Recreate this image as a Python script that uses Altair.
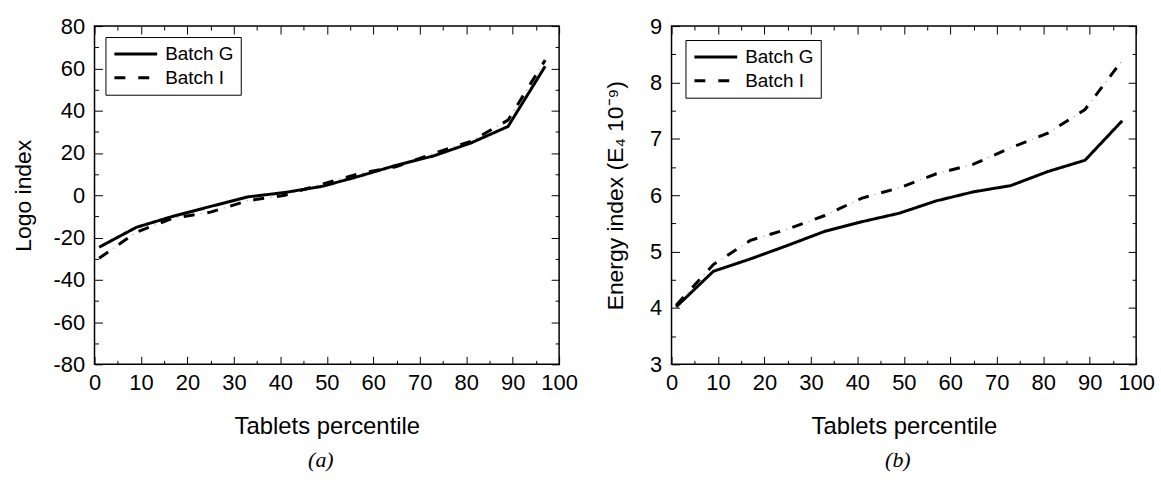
import altair as alt
import pandas as pd

# ---- data ----
pct = [1, 9, 17, 25, 33, 41, 49, 57, 65, 73, 81, 89, 97]
logo_g = [-24.6, -15.2, -9.9, -5.3, -0.8, 1.3, 4.2, 9.0, 14.2, 18.6, 24.7, 32.5, 61.0]
logo_i = [-29.8, -17.5, -10.8, -8.0, -2.6, 0.0, 5.3, 10.2, 13.5, 19.8, 25.5, 35.5, 63.9]
energy_g = [4.02, 4.65, 4.87, 5.11, 5.36, 5.53, 5.68, 5.90, 6.06, 6.17, 6.42, 6.62, 7.32]
energy_i = [4.05, 4.77, 5.20, 5.40, 5.64, 5.95, 6.13, 6.38, 6.55, 6.84, 7.10, 7.52, 8.39]
series = ["Batch G", "Batch I"]

x_major = [0, 10, 20, 30, 40, 50, 60, 70, 80, 90, 100]
x_minor = [5, 15, 25, 35, 45, 55, 65, 75, 85, 95]
logo_major = [-80, -60, -40, -20, 0, 20, 40, 60, 80]
logo_minor = [-70, -50, -30, -10, 10, 30, 50, 70]
energy_major = [3, 4, 5, 6, 7, 8, 9]
energy_minor = [3.5, 4.5, 5.5, 6.5, 7.5, 8.5]

FONT = "Liberation Sans"
W, H = 467, 340
MAJ, MIN = 8, 4
HYPHEN_LABEL = "replace(datum.label, '\u2212', '-')"


def make_df(g, i):
    rows = []
    for name, vals in zip(series, [g, i]):
        for p, v in zip(pct, vals):
            rows.append({"pct": p, "val": v, "batch": name})
    return pd.DataFrame(rows)


def tick_axis(orient, values, size):
    return alt.Axis(orient=orient, values=values, ticks=True, tickSize=size,
                    tickColor="black", tickWidth=1, offset=-size, labels=False,
                    domain=False, grid=False, title=None)


def panel(df, ydom, ymaj, ymin, ytitle, caption, leg_offset, ytitle_pad):
    xs = alt.Scale(domain=[0, 100], nice=False, zero=False)
    ys = alt.Scale(domain=ydom, nice=False, zero=False)
    base = alt.Chart(df)
    # faint dots between the dashes of Batch I
    dots = base.transform_filter(alt.datum.batch == series[1]).mark_line(
        color="#b0b0b0", strokeWidth=1.2, strokeCap="butt").encode(
        x=alt.X("pct:Q", scale=xs, axis=None),
        y=alt.Y("val:Q", scale=ys, axis=None),
        strokeDash=alt.value([11, 6, 1.5, 5.5]),
        order="pct:Q",
    )
    lines = base.mark_line(color="black", strokeWidth=3, strokeCap="butt").encode(
        x=alt.X("pct:Q", scale=xs, axis=alt.Axis(
            orient="bottom", values=x_major, ticks=False, tickSize=0, domain=False,
            grid=False, labelFont=FONT, labelFontSize=22, labelColor="black",
            labelPadding=8, labelFlush=False, labelOverlap=False,
            title="Tablets percentile", titleFont=FONT, titleFontSize=24,
            titleFontWeight="normal", titleColor="black", titlePadding=22)),
        y=alt.Y("val:Q", scale=ys, axis=alt.Axis(
            orient="left", values=ymaj, ticks=False, tickSize=0, domain=False,
            grid=False, labelFont=FONT, labelFontSize=22, labelColor="black",
            labelPadding=10, labelFlush=False, labelOverlap=False,
            labelExpr=HYPHEN_LABEL,
            title=ytitle, titleFont=FONT, titleFontSize=23,
            titleFontWeight="normal", titleColor="black", titlePadding=ytitle_pad)),
        strokeDash=alt.StrokeDash("batch:N", scale=alt.Scale(
            domain=series, range=[[1, 0], [11, 13]]),
            legend=alt.Legend(title=None, orient="top-left", offset=leg_offset,
                              padding=7, strokeColor="black", fillColor="white",
                              symbolType="stroke", symbolSize=1850,
                              symbolStrokeWidth=3, symbolStrokeColor="black",
                              clipHeight=20, rowPadding=4,
                              labelFont=FONT, labelFontSize=19, labelColor="black",
                              labelOffset=6)),
        order="pct:Q",
    )
    l1 = base.mark_point(opacity=0).encode(
        x=alt.X("pct:Q", axis=tick_axis("bottom", x_major, MAJ)),
        y=alt.Y("val:Q", axis=tick_axis("left", ymaj, MAJ)))
    l2 = base.mark_point(opacity=0).encode(
        x=alt.X("pct:Q", axis=tick_axis("bottom", x_minor, MIN)),
        y=alt.Y("val:Q", axis=tick_axis("left", ymin, MIN)))
    l3 = base.mark_point(opacity=0).encode(
        x=alt.X("pct:Q", axis=tick_axis("top", x_major, MAJ)),
        y=alt.Y("val:Q", axis=tick_axis("right", ymaj, MAJ)))
    l4 = base.mark_point(opacity=0).encode(
        x=alt.X("pct:Q", axis=tick_axis("top", x_minor, MIN)),
        y=alt.Y("val:Q", axis=tick_axis("right", ymin, MIN)))
    return alt.layer(dots, lines, l1, l2, l3, l4).resolve_axis(
        x="independent", y="independent"
    ).properties(
        width=W, height=H,
        title=alt.TitleParams(caption, orient="bottom", anchor="middle", frame="group",
                              font="Liberation Serif", fontStyle="italic", fontSize=22,
                              fontWeight="normal", color="black", offset=11, dx=-6),
    )


left = panel(make_df(logo_g, logo_i), [-80, 80], logo_major, logo_minor,
             "Logo index", "(a)", 11, 18)
right = panel(make_df(energy_g, energy_i), [3, 9], energy_major, energy_minor,
              "Energy index (E\u2084 10\u207b\u2079)", "(b)", 14, 22)

chart = alt.hconcat(left, right, spacing=25).resolve_scale(
    x="independent", y="independent", strokeDash="independent"
).configure_view(stroke="black", strokeWidth=1.5).properties(
    padding={"left": 11, "top": 13, "right": 5, "bottom": 0},
    background="white",
)

chart.save("out.html", embed_options={"renderer": "svg", "actions": False})
